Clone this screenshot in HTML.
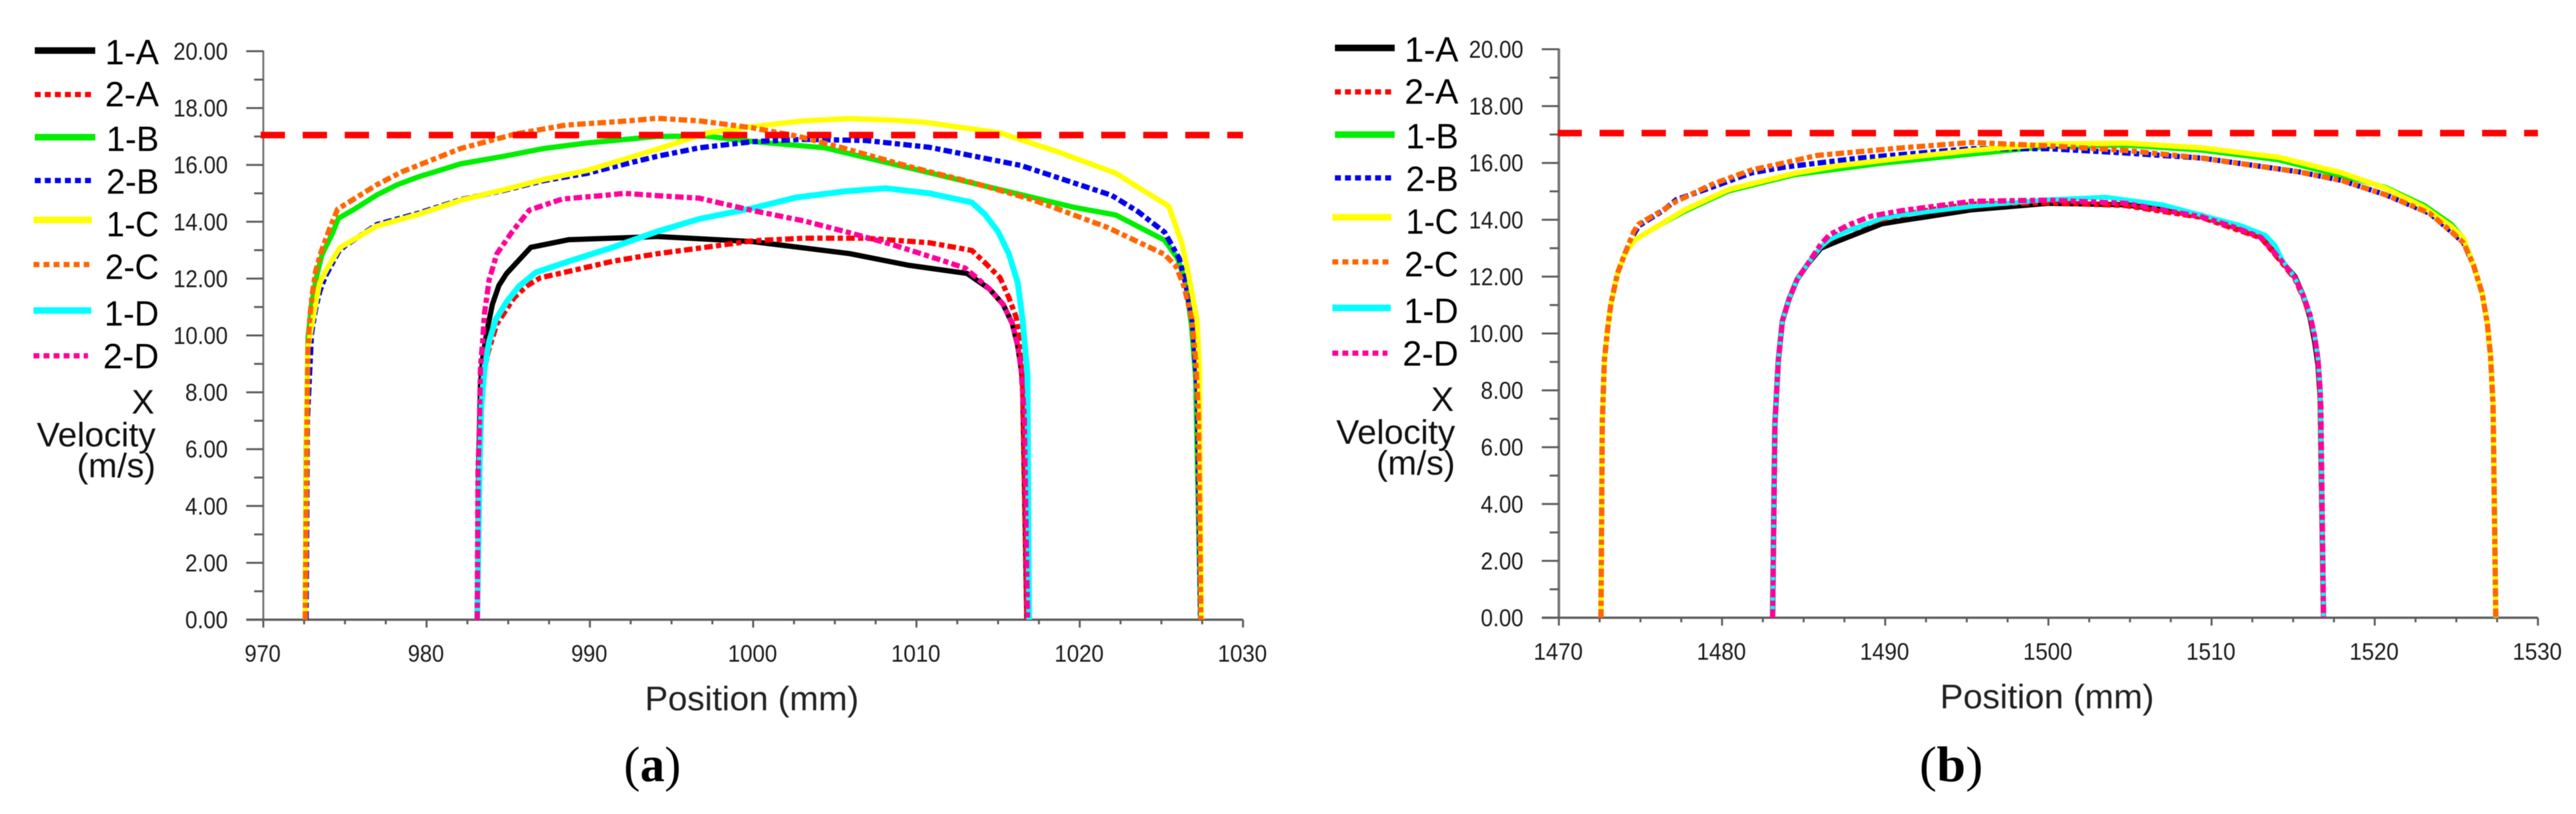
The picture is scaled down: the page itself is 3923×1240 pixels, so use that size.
<!DOCTYPE html>
<html lang="en">
<head>
<meta charset="utf-8">
<title>X velocity profiles</title>
<style>
html,body{margin:0;padding:0;background:#fff;}
svg{display:block;filter:blur(0.6px);}
text{font-family:"Liberation Sans",sans-serif;}
</style>
</head>
<body>
<svg id="figure" xmlns="http://www.w3.org/2000/svg" width="3923" height="1240" viewBox="0 0 3923 1240"></svg>
<script>
// Shared chart data
const seriesNames = ['1-A','2-A','1-B','2-B','1-C','2-C','1-D','2-D'];
const seriesColors = ['#000000','#ff0000','#00ee00','#0000ee','#ffff00','#ff6600','#00ffff','#ff0099'];
const yTickLabels = ['0.00','2.00','4.00','6.00','8.00','10.00','12.00','14.00','16.00','18.00','20.00'];
const referenceVelocity = 17.05;

// Panel (a) x-axis and series: [position mm, velocity m/s]
const xTicksA = [970,980,990,1000,1010,1020,1030];
const a1A = [[983.1,0],[983.2,5.5],[983.3,8.25],[983.43,9.18],[983.7,10.18],[984.03,11.1],[984.43,11.76],[984.9,12.18],[985.64,12.64],[986.38,13.1],[988.72,13.37],[992.75,13.45],[994.1,13.48],[1000,13.3],[1005.9,12.88],[1009.5,12.47],[1013.1,12.18],[1014.46,11.64],[1015.3,11.1],[1015.87,10.42],[1016.2,9.64],[1016.4,8.87],[1016.5,8.4],[1016.76,0]];
const a2A = [[983.1,0],[983.2,5.5],[983.35,8.3],[983.76,9.4],[984.3,10.4],[985.36,11.33],[986.16,11.75],[986.97,12.03],[988.45,12.22],[991.4,12.61],[994.08,12.87],[997.2,13.11],[1000,13.33],[1003.1,13.42],[1006.9,13.42],[1010.8,13.26],[1013.39,12.99],[1014.19,12.56],[1015.12,12.03],[1015.66,11.33],[1016.1,10.65],[1016.3,9.95],[1016.5,8.7],[1016.76,0]];
const a1B = [[972.57,0],[972.62,6],[972.74,9.93],[972.95,11.09],[973.26,12.08],[973.6,12.85],[974.2,13.55],[974.6,14.12],[975.6,14.45],[976.95,14.94],[978.2,15.3],[979.5,15.58],[982.1,16.04],[984.7,16.3],[987.2,16.58],[989.8,16.77],[994.1,17],[997,17.02],[1000,16.82],[1004.4,16.6],[1009.5,15.9],[1014.6,15.2],[1019.7,14.5],[1022.2,14.24],[1025.2,13.35],[1026,12.7],[1026.5,11.85],[1026.85,10.3],[1027.1,8.5],[1027.4,0]];
const a2B = [[972.62,0],[972.7,7],[972.95,10.07],[973.2,10.93],[973.46,11.55],[973.8,12.08],[974.6,12.94],[975,13.15],[976.95,13.9],[979.5,14.3],[982.1,14.78],[984.7,15.1],[987.2,15.45],[989.8,15.7],[994.1,16.3],[996.7,16.6],[1000,16.82],[1003.1,16.9],[1006.9,16.86],[1010.8,16.62],[1016.4,15.98],[1021.95,14.93],[1023.56,14.36],[1025.2,13.63],[1026.1,12.7],[1026.5,11.78],[1026.9,10.47],[1027.2,8],[1027.4,0]];
const a1C = [[972.57,0],[972.65,7],[972.74,9.6],[972.95,10.3],[973.2,11.09],[973.46,11.85],[973.94,12.39],[974.68,13.08],[976.95,13.85],[979.5,14.26],[982.1,14.76],[984.7,15.12],[987.2,15.49],[989.8,15.8],[994.1,16.55],[997.2,17.13],[1000,17.35],[1003.1,17.55],[1005.9,17.63],[1008.7,17.57],[1010.5,17.5],[1015.1,17.13],[1018.6,16.47],[1022.2,15.71],[1023.6,15.2],[1025.45,14.55],[1026.26,13.24],[1026.66,12.16],[1027.2,10.47],[1027.33,8.78],[1027.45,0]];
const a2C = [[972.57,0],[972.68,7],[972.74,9.6],[972.86,10.7],[973,11.46],[973.2,12.25],[973.54,12.94],[974.07,13.77],[974.55,14.44],[976.95,15.3],[978.5,15.76],[982.1,16.58],[985.4,17.08],[988.5,17.4],[992.4,17.55],[994.1,17.64],[996.7,17.55],[1000,17.3],[1002.8,17],[1005.6,16.58],[1009.5,15.95],[1013.3,15.4],[1017.2,14.76],[1021.7,13.8],[1025.2,12.85],[1025.9,12.43],[1026.4,11.7],[1026.85,10.6],[1027.1,9.16],[1027.27,7.3],[1027.42,0]];
const a1D = [[983.1,0],[983.25,5.5],[983.35,7.48],[983.55,8.87],[983.83,9.79],[984.23,10.56],[984.9,11.18],[985.64,11.72],[986.7,12.22],[988.72,12.61],[991.4,13.1],[994.08,13.65],[996.7,14.1],[1000,14.48],[1002.6,14.85],[1005.6,15.07],[1008.1,15.18],[1010.8,15],[1013.39,14.68],[1014.19,14.26],[1015,13.65],[1015.66,12.87],[1016.2,11.87],[1016.5,10.56],[1016.8,8.57],[1016.9,0]];
const a2D = [[983.1,0],[983.15,5.25],[983.23,6.71],[983.3,8.87],[983.43,9.79],[983.55,10.79],[983.83,11.95],[984.3,12.87],[985.24,13.65],[986.3,14.41],[988.3,14.8],[991.1,14.94],[992.1,15],[994.1,14.92],[996.7,14.83],[1000,14.39],[1003.1,14.03],[1005.6,13.66],[1008.5,13.2],[1010.97,12.75],[1011.78,12.6],[1012.98,12.37],[1013.79,11.98],[1014.46,11.64],[1015.3,11.1],[1015.87,10.42],[1016.2,9.64],[1016.4,8.87],[1016.6,7.18],[1016.8,0]];

// Panel (b) x-axis and series
const xTicksB = [1470,1480,1490,1500,1510,1520,1530];
const b1A = [[1483.1,0],[1483.24,6.82],[1483.45,9.05],[1483.7,10.44],[1484.1,11.2],[1484.6,11.9],[1485.25,12.44],[1486.06,13.0],[1487.1,13.25],[1489.8,13.86],[1491,13.97],[1495.3,14.35],[1500,14.58],[1504.7,14.53],[1509.4,14.16],[1513.03,13.38],[1513.57,13.03],[1514.37,12.49],[1515.11,12],[1515.64,11.3],[1516.04,10.55],[1516.32,9.7],[1516.52,8.9],[1516.65,7.8],[1516.86,0]];
const b2A = [[1483.1,0],[1483.24,6.82],[1483.45,9.05],[1483.7,10.44],[1484.1,11.2],[1484.6,11.9],[1485.25,12.44],[1486.06,13.14],[1487.1,13.5],[1489.7,14],[1492.2,14.3],[1495.3,14.55],[1500,14.6],[1504.7,14.5],[1509.4,14.08],[1513.03,13.36],[1513.57,13.0],[1514.37,12.45],[1515.11,11.92],[1515.64,11.25],[1516.04,10.6],[1516.32,9.85],[1516.52,9.1],[1516.65,8],[1516.86,0]];
const b1B = [[1472.58,0],[1472.66,6.82],[1472.79,9.05],[1472.98,10.13],[1473.19,11.05],[1473.6,12.13],[1474.06,12.83],[1474.67,13.3],[1475.74,13.67],[1477.75,14.3],[1480.4,15],[1484.4,15.57],[1489.8,15.98],[1495.3,16.3],[1500,16.57],[1504.7,16.62],[1509.4,16.44],[1514.1,16.1],[1516.65,15.73],[1520.67,15.15],[1523.08,14.5],[1524.7,13.85],[1525.44,13.35],[1526.04,12.42],[1526.58,11.42],[1526.9,10.34],[1527.1,9.19],[1527.25,7.49],[1527.42,0]];
const b2B = [[1472.58,0],[1472.66,6.82],[1472.79,9.05],[1472.98,10.13],[1473.19,11.05],[1473.6,12.13],[1474.06,12.83],[1474.6,13.5],[1474.9,13.79],[1476.4,14.33],[1477.2,14.71],[1479.4,15.15],[1481.8,15.65],[1483.8,15.85],[1488.4,16.17],[1495.3,16.5],[1500,16.5],[1504.7,16.35],[1509.4,16.17],[1515.31,15.69],[1517.99,15.38],[1520.67,14.88],[1523.36,14.23],[1524.7,13.58],[1525.44,13.19],[1526.04,12.42],[1526.58,11.42],[1526.9,10.34],[1527.1,9.19],[1527.25,7.49],[1527.42,0]];
const b1C = [[1472.58,0],[1472.66,6.82],[1472.79,9.05],[1472.98,10.13],[1473.19,11.05],[1473.6,12.13],[1474.06,12.83],[1474.67,13.3],[1477.75,14.36],[1480.4,15.06],[1484.4,15.63],[1487.1,15.9],[1491,16.17],[1495.3,16.44],[1500,16.66],[1504.7,16.7],[1509.4,16.53],[1514.1,16.2],[1518,15.65],[1520.67,15.11],[1523.08,14.42],[1524.7,13.76],[1525.44,13.35],[1526.04,12.42],[1526.58,11.42],[1526.9,10.34],[1527.1,9.19],[1527.25,7.49],[1527.42,0]];
const b2C = [[1472.58,0],[1472.66,6.82],[1472.79,9.05],[1472.98,10.13],[1473.19,11.05],[1473.6,12.13],[1474.06,12.83],[1474.6,13.6],[1474.9,13.85],[1476.4,14.35],[1477.2,14.65],[1479.4,15.25],[1481.8,15.75],[1483.8,16],[1485.8,16.26],[1491,16.53],[1495.3,16.72],[1500,16.6],[1504.7,16.44],[1509.4,16.17],[1515.31,15.69],[1517.99,15.38],[1520.67,14.88],[1523.36,14.23],[1524.7,13.58],[1525.44,13.19],[1526.04,12.42],[1526.58,11.42],[1526.9,10.34],[1527.1,9.19],[1527.25,7.49],[1527.42,0]];
const b1D = [[1483.1,0],[1483.24,6.82],[1483.45,9.05],[1483.7,10.44],[1484.1,11.2],[1484.6,11.9],[1485.25,12.44],[1486.06,13.05],[1486.6,13.3],[1487.8,13.63],[1489.8,14.05],[1491,14.17],[1495.3,14.47],[1500,14.71],[1503.5,14.8],[1507,14.53],[1511.8,13.8],[1513.3,13.46],[1513.9,13.1],[1514.37,12.55],[1515.11,11.96],[1515.64,11.3],[1516.04,10.65],[1516.32,9.88],[1516.52,9.11],[1516.65,8.03],[1516.86,0]];
const b2D = [[1483.1,0],[1483.24,6.82],[1483.45,9.05],[1483.7,10.44],[1484.1,11.2],[1484.6,11.9],[1485.25,12.44],[1486.06,13.14],[1486.6,13.48],[1487.8,13.83],[1489.15,14.13],[1491,14.32],[1495.3,14.65],[1500,14.69],[1504.7,14.58],[1509.4,14.1],[1511.29,13.76],[1513.03,13.38],[1513.57,13.03],[1514.37,12.49],[1515.11,11.96],[1515.64,11.3],[1516.04,10.65],[1516.32,9.88],[1516.52,9.11],[1516.65,8.03],[1516.7,7.41],[1516.86,0]];

const seriesA = [a1A,a2A,a1B,a2B,a1C,a2C,a1D,a2D];
const seriesB = [b1A,b2A,b1B,b2B,b1C,b2C,b1D,b2D];

const NS = 'http://www.w3.org/2000/svg';
const figure = document.getElementById('figure');

function make(tag, parent, attrs) {
  const el = document.createElementNS(NS, tag);
  for (const k in attrs) el.setAttribute(k, attrs[k]);
  parent.appendChild(el);
  return el;
}

function label(parent, str, x, y, size, anchor, width, fill, name) {
  const attrs = {x:x, y:y, 'font-size':size, 'text-anchor':anchor, fill:fill};
  if (width) { attrs.textLength = width; attrs.lengthAdjust = 'spacingAndGlyphs'; }
  const t = make('text', parent, attrs);
  t.textContent = str;
  
  
  return t;
}

function drawPanel(cfg) {
  const panel = make('g', figure, {});
  
  

  const xMin = cfg.xTicks[0];
  const xMax = cfg.xTicks[cfg.xTicks.length - 1];
  const xs = v => cfg.left + (v - xMin) * (cfg.right - cfg.left) / (xMax - xMin);
  const ys = v => cfg.bottom - v * (cfg.bottom - cfg.top) / 20;
  const axisColor = '#5c5c5c';

  // Axes
  const axisGroup = make('g', panel, {stroke:axisColor, 'stroke-width':3, fill:'none'});
  
  
  make('line', axisGroup, {x1:xs(xMin), y1:ys(20) - 1, x2:xs(xMin), y2:ys(0), 'stroke-width':cfg.yAxisWidth, stroke:'#777'});
  make('line', axisGroup, {x1:xs(xMin) - 26, y1:ys(0), x2:xs(xMax), y2:ys(0), 'stroke-width':3.5});

  yTickLabels.forEach((txt, i) => {
    const v = parseFloat(txt);
    make('line', axisGroup, {x1:xs(xMin) - 26, y1:ys(v), x2:xs(xMin), y2:ys(v)});
    if (i < yTickLabels.length - 1) {
      make('line', axisGroup, {x1:xs(xMin) - 14, y1:ys(v + 1), x2:xs(xMin), y2:ys(v + 1)});
    }
    const w = txt.length === 5 ? 83 : 65;
    label(panel, txt, cfg.yLabelRight, ys(v) + 13, 37, 'end', w, '#1c1c1c', 'y-tick-label-' + txt);
  });

  cfg.xTicks.forEach((v, i) => {
    make('line', axisGroup, {x1:xs(v), y1:ys(0), x2:xs(v), y2:ys(0) + 12});
    if (i < cfg.xTicks.length - 1) {
      [2.5, 5, 7.5].forEach(d => {
        make('line', axisGroup, {x1:xs(v + d), y1:ys(0), x2:xs(v + d), y2:ys(0) + 7});
      });
    }
    label(panel, String(v), xs(v) - 1, cfg.bottom + 64, 36, 'middle', String(v).length === 3 ? 55 : 75, '#1c1c1c', 'x-tick-label-' + v);
  });

  // Series
  const curves = make('g', panel, {fill:'none', 'stroke-linejoin':'round'});
  
  
  cfg.series.forEach((pts, i) => {
    const dashed = i % 2 === 1;
    const attrs = {
      points: pts.map(p => xs(p[0]).toFixed(1) + ',' + ys(p[1]).toFixed(1)).join(' '),
      stroke: seriesColors[i],
      'stroke-width': cfg.widths[i]
    };
    if (dashed) attrs['stroke-dasharray'] = '13 5 8 5';
    const line = make('polyline', curves, attrs);
    
    
  });

  // Reference line
  const ref = make('line', panel, {
    x1: cfg.refStart, y1: ys(referenceVelocity), x2: xs(xMax), y2: ys(referenceVelocity),
    stroke:'#ff0000', 'stroke-width':10, 'stroke-dasharray':'37 27'
  });
  
  

  // Legend
  const legend = make('g', panel, {});
  
  
  seriesNames.forEach((name, i) => {
    const entry = make('g', legend, {});
    
    
    const ly = cfg.legendLineY[i];
    const attrs = {
      x1: cfg.legendX[i][0], x2: cfg.legendX[i][1], y1: ly, y2: ly,
      stroke: seriesColors[i], 'stroke-width': i % 2 === 1 ? 8 : 10
    };
    if (i % 2 === 1) attrs['stroke-dasharray'] = '9 6.3';
    make('line', entry, attrs);
    label(entry, name, cfg.legendTextRight, cfg.legendTextY[i], 54, 'end', cfg.legendTextW[i], '#000', 'legend-label-' + name);
  });

  // Y title
  label(panel, 'X', cfg.titleRight - 2, cfg.titleY[0], 52, 'end', 0, '#111', 'y-axis-title-x');
  label(panel, 'Velocity', cfg.titleRight, cfg.titleY[1], 52, 'end', 181, '#111', 'y-axis-title-velocity');
  label(panel, '(m/s)', cfg.titleRight, cfg.titleY[2], 52, 'end', 120, '#111', 'y-axis-title-unit');

  // X title
  label(panel, 'Position (mm)', (cfg.left + cfg.right) / 2 - 2, cfg.bottom + 138, 52, 'middle', 326, '#222', 'x-axis-title');

  // Panel caption
  const cap = make('text', panel, {x:cfg.capX, y:cfg.capY, 'font-size':76, 'text-anchor':'start', textLength:cfg.capW, lengthAdjust:'spacingAndGlyphs', fill:'#000', style:'font-family:"Liberation Serif",serif'});
  
  
  const t1 = make('tspan', cap, {}); t1.textContent = '(';
  const t2 = make('tspan', cap, {'font-weight':'bold'}); t2.textContent = cfg.id;
  const t3 = make('tspan', cap, {}); t3.textContent = ')';
}

drawPanel({
  id:'a', xTicks:xTicksA, series:seriesA,
  left:401, right:1893, top:78, bottom:944, yAxisWidth:3,
  refStart:397, yLabelRight:347,
  widths:[8,8,8,8,8,8,9,8],
  legendLineY:[77,144,209,275,335,403,473,542],
  legendX:[[53,145],[53,141],[53,145],[53,141],[51,140],[51,136],[51,139],[51,134]],
  legendTextRight:242,
  legendTextY:[98,162,230,295,360,425,496,561],
  legendTextW:[82,82,80,80,80,82,83,85],
  titleRight:237, titleY:[630,680,727],
  capX:950, capY:1190, capW:87
});

drawPanel({
  id:'b', xTicks:xTicksB, series:seriesB,
  left:2374, right:3865, top:75, bottom:941, yAxisWidth:4,
  refStart:2372, yLabelRight:2320,
  widths:[8,8,7,8,8,8,7,8],
  legendLineY:[73,140,205,271,331,399,469,538],
  legendX:[[2033,2124],[2033,2120],[2033,2124],[2033,2120],[2029,2119],[2029,2115],[2029,2118],[2029,2113]],
  legendTextRight:2221,
  legendTextY:[94,158,226,291,356,421,492,557],
  legendTextW:[82,82,80,80,80,82,83,85],
  titleRight:2216, titleY:[626,676,723],
  capX:2923, capY:1190, capW:97
});
</script>
</body>
</html>
